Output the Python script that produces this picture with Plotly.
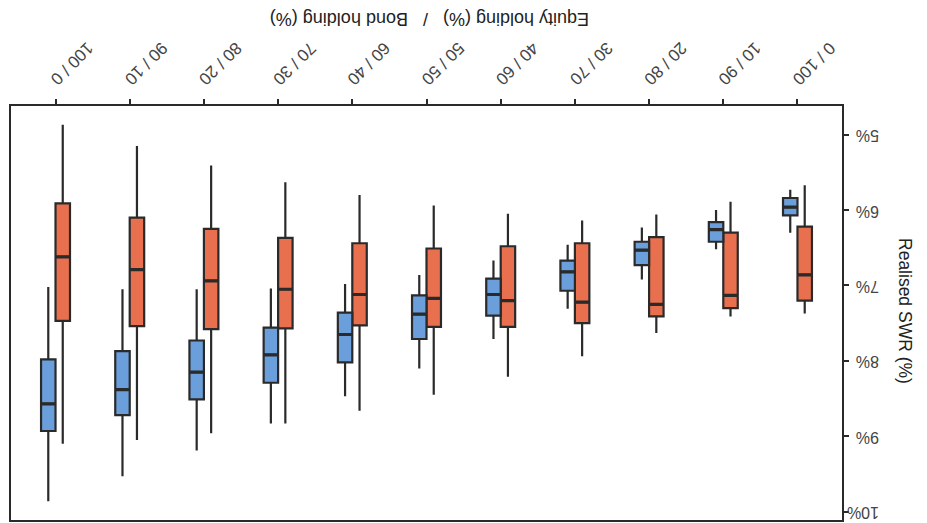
import plotly.graph_objects as go

# Allocation categories (equity / bond), natural order
categories = ["0 / 100", "10 / 90", "20 / 80", "30 / 70", "40 / 60", "50 / 50",
              "60 / 40", "70 / 30", "80 / 20", "90 / 10", "100 / 0"]

# Blue series (values in %)
blue_low = [6.30, 6.52, 6.92, 7.31, 7.71, 8.10, 8.47, 8.83, 9.19, 9.53, 9.86]
blue_q1 = [6.07, 6.42, 6.73, 7.07, 7.40, 7.71, 8.02, 8.29, 8.51, 8.72, 8.93]
blue_med = [5.96, 6.26, 6.53, 6.82, 7.12, 7.38, 7.65, 7.92, 8.15, 8.38, 8.57]
blue_q3 = [5.84, 6.16, 6.42, 6.67, 6.91, 7.13, 7.36, 7.56, 7.73, 7.87, 7.98]
blue_high = [5.73, 6.00, 6.23, 6.46, 6.67, 6.86, 6.98, 7.04, 7.05, 7.05, 7.02]

# Orange series (values in %)
orange_low = [7.37, 7.41, 7.63, 7.94, 8.21, 8.45, 8.66, 8.83, 8.96, 9.05, 9.10]
orange_q1 = [7.20, 7.30, 7.41, 7.50, 7.55, 7.55, 7.53, 7.57, 7.58, 7.54, 7.47]
orange_med = [6.86, 7.13, 7.25, 7.22, 7.20, 7.17, 7.12, 7.05, 6.94, 6.79, 6.62]
orange_q3 = [6.22, 6.30, 6.36, 6.44, 6.48, 6.51, 6.44, 6.37, 6.25, 6.10, 5.91]
orange_high = [5.67, 5.89, 6.06, 6.14, 6.05, 5.94, 5.80, 5.63, 5.41, 5.15, 4.87]

y_ticks = [5, 6, 7, 8, 9, 10]
y_ticktext = [f"{v}%" for v in y_ticks]

BLUE = "#6b9fdc"
ORANGE = "#e9704f"
EDGE = "#2a2a2a"
FONT = "Liberation Sans, Arial, sans-serif"

fig = go.Figure()


def add_series(name, color, low, q1, med, q3, high):
    fig.add_trace(go.Box(
        x=categories, q1=q3, median=med, q3=q1,
        lowerfence=high, upperfence=low,
        fillcolor=color, line=dict(color=EDGE, width=2.2), whiskerwidth=0,
        offsetgroup=name, name=name, showlegend=False, hoverinfo="skip"))
    # thicker median bar drawn on top of the box
    fig.add_trace(go.Box(
        x=categories, q1=med, median=med, q3=med,
        lowerfence=med, upperfence=med,
        fillcolor="rgba(0,0,0,0)", line=dict(color=EDGE, width=3.2),
        whiskerwidth=0, offsetgroup=name, name=name + " median",
        showlegend=False, hoverinfo="skip"))


# orange first (appears right of blue on reversed axis)
add_series("orange", ORANGE, orange_low, orange_q1, orange_med, orange_q3, orange_high)
add_series("blue", BLUE, blue_low, blue_q1, blue_med, blue_q3, blue_high)

fig.update_layout(
    width=927, height=523,
    margin=dict(l=11, r=85, t=106, b=1),
    paper_bgcolor="white", plot_bgcolor="white",
    boxmode="group", boxgap=0.61, boxgroupgap=0,
    font=dict(family=FONT, color="#444"),
    xaxis=dict(
        type="category", categoryorder="array", categoryarray=categories,
        range=[10.6, -0.6], side="top",
        showline=True, linecolor=EDGE, linewidth=1.6, mirror=True,
        ticks="outside", ticklen=5, tickwidth=1.6, tickcolor=EDGE,
        tickangle=135, tickfont=dict(size=17, color="#444", family=FONT),
        showgrid=False, zeroline=False,
    ),
    yaxis=dict(
        range=[10.11, 4.62], side="right",
        tickvals=y_ticks, ticktext=y_ticktext,
        showline=True, linecolor=EDGE, linewidth=1.6, mirror=True,
        ticks="outside", ticklen=5, tickwidth=1.6, tickcolor=EDGE,
        tickangle=180, ticklabelstandoff=27, ticklabelshift=-6,
        tickfont=dict(size=16, color="#444", family=FONT),
        showgrid=False, zeroline=False,
    ),
    annotations=[
        dict(text="Equity holding (%)   /   Bond holding (%)", textangle=180,
             x=430, y=18, xref="paper", yref="paper", showarrow=False,
             font=dict(size=18, color="#222", family=FONT)),
        dict(text="Realised SWR (%)", textangle=90,
             x=905, y=312, xref="paper", yref="paper", showarrow=False,
             font=dict(size=17.5, color="#222", family=FONT)),
    ],
)

# convert pixel anchor positions of the annotations into paper coordinates
pl, pr, pt, pb = 11, 927 - 85, 106, 523 - 1
for ann in fig.layout.annotations:
    px, py = ann.x, ann.y
    ann.x = (px - pl) / (pr - pl)
    ann.y = (pb - py) / (pb - pt)
    ann.xanchor = "center"
    ann.yanchor = "middle"

fig.write_html("out.html")
